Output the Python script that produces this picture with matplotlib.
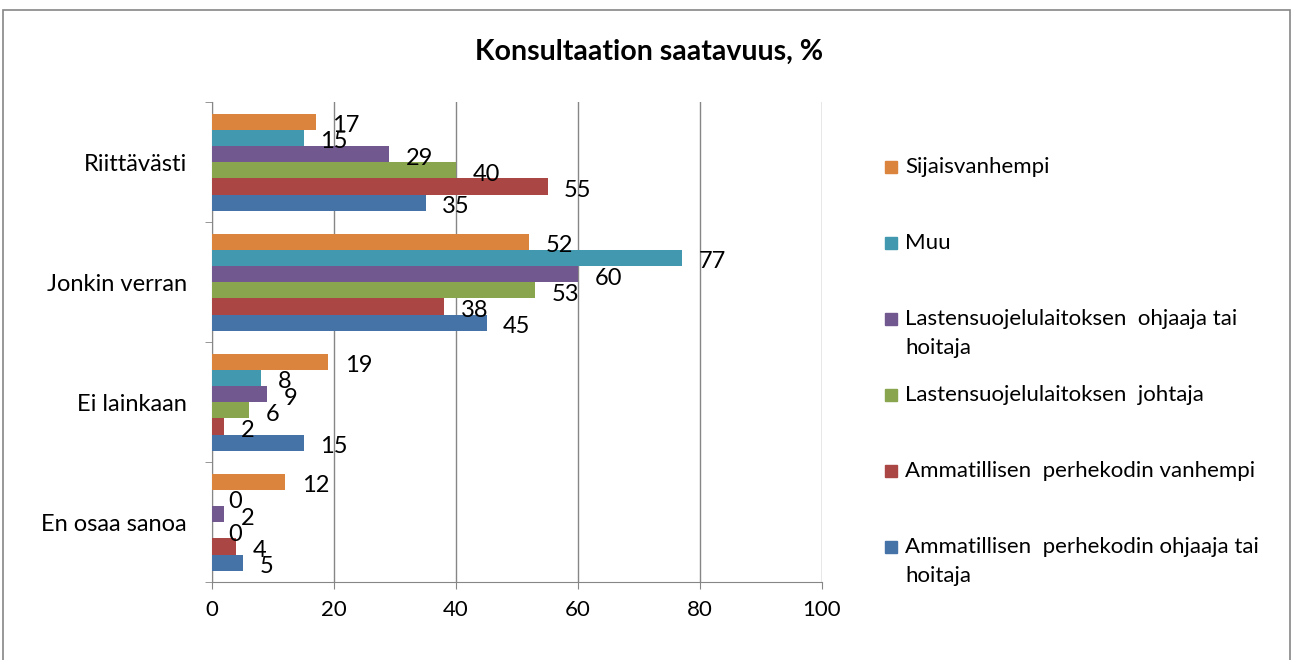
import matplotlib.pyplot as plt
from matplotlib.patches import Rectangle
import numpy as np

plt.rcParams['font.family'] = ['Lato', 'DejaVu Sans']

categories = ['Riittävästi', 'Jonkin verran', 'Ei lainkaan', 'En osaa sanoa']
series = ['Ammatillisen  perhekodin ohjaaja tai\nhoitaja',
          'Ammatillisen  perhekodin vanhempi',
          'Lastensuojelulaitoksen  johtaja',
          'Lastensuojelulaitoksen  ohjaaja tai\nhoitaja',
          'Muu',
          'Sijaisvanhempi']
colors = ['#4572A7', '#AA4643', '#89A54E', '#71588F', '#4198AF', '#DB843D']

# values per series, in category order
amm_ohjaaja = [35, 45, 15, 5]
amm_vanhempi = [55, 38, 2, 4]
las_johtaja = [40, 53, 6, 0]
las_ohjaaja = [29, 60, 9, 2]
muu = [15, 77, 8, 0]
sijais = [17, 52, 19, 12]
values = [amm_ohjaaja, amm_vanhempi, las_johtaja, las_ohjaaja, muu, sijais]

fig = plt.figure(figsize=(12.93, 6.6), dpi=100)
ax = fig.add_axes([0.164, 0.118, 0.4717, 0.7273])

ypos = np.arange(len(categories))[::-1]
h = 0.135
for i, (vals, col) in enumerate(zip(values, colors)):
    y = ypos + (i - 2.5) * h
    ax.barh(y, vals, height=h, color=col, zorder=3)
    for yy, v in zip(y, vals):
        ax.annotate(str(v), (v, yy), xytext=(12, -3), textcoords='offset points',
                    ha='left', va='center', fontsize=17, color='black', zorder=4)

ax.set_xlim(0, 100)
ax.set_ylim(-0.5, 3.5)
ax.set_xticks([0, 20, 40, 60, 80, 100])
ax.tick_params(axis='x', labelsize=16, length=5, color='#868686', pad=8)
ax.set_yticks(ypos)
ax.set_yticklabels(categories, fontsize=17)
ax.tick_params(axis='y', length=0, pad=18)
ax.set_yticks(np.arange(-0.5, 4, 1), minor=True)
ax.tick_params(axis='y', which='minor', length=5, color='#868686')
ax.grid(axis='x', color='#868686', lw=1, zorder=0)
for s in ['top', 'right']:
    ax.spines[s].set_visible(False)
for s in ['left', 'bottom']:
    ax.spines[s].set_color('#868686')

fig.text(0.502, 0.921, 'Konsultaation saatavuus, %', ha='center', va='center',
         fontsize=20.5, fontweight='bold')

# legend drawn by hand, top entry = last series
ly = 167
for name, col in zip(series[::-1], colors[::-1]):
    yf = 1 - ly / 660
    fig.patches.append(Rectangle((885 / 1293, yf - 6 / 660), 12 / 1293, 12 / 660,
                                 transform=fig.transFigure, color=col))
    for k, line in enumerate(name.split('\n')):
        fig.text(905 / 1293, yf - k * 29 / 660, line, ha='left', va='center',
                 fontsize=16)
    ly += 76

fig.patches.append(Rectangle((3 / 1293, -0.01), 1287 / 1293, 1 - 10 / 660 + 0.01,
                             transform=fig.transFigure, fill=False,
                             edgecolor='#868686', lw=1.2))

fig.savefig('out.png', dpi=100)
